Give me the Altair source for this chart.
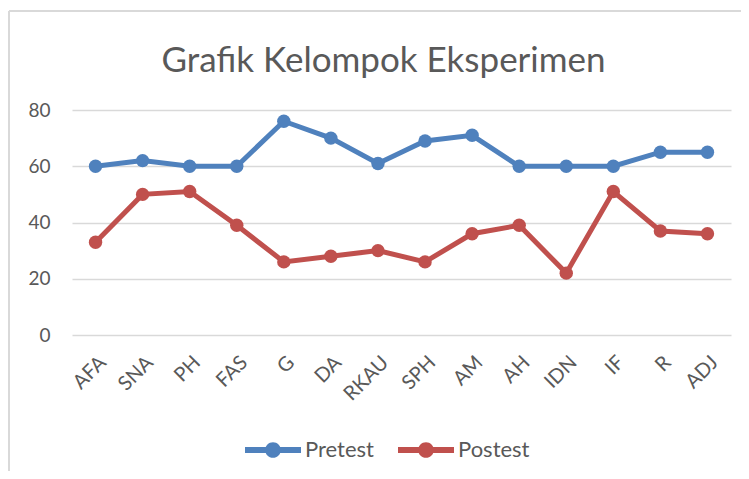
import altair as alt
import pandas as pd

students = ["AFA", "SNA", "PH", "FAS", "G", "DA", "RKAU", "SPH", "AM", "AH", "IDN", "IF", "R", "ADJ"]
pretest = [60, 62, 60, 60, 76, 70, 61, 69, 71, 60, 60, 60, 65, 65]
postest = [33, 50, 51, 39, 26, 28, 30, 26, 36, 39, 22, 51, 37, 36]
series_names = ["Pretest", "Postest"]
series_colors = ["#4F81BD", "#C0504D"]
chart_title = "Grafik Kelompok Eksperimen"

rows = []
for s, v in zip(students, pretest):
    rows.append({"Siswa": s, "Seri": "Pretest", "Nilai": v})
for s, v in zip(students, postest):
    rows.append({"Siswa": s, "Seri": "Postest", "Nilai": v})
df = pd.DataFrame(rows)

FONT = "Lato"
GREY = "#595959"

legend_path = (
    "M-1,-0.11 L-0.2,-0.11 L-0.2,0.11 L-1,0.11 Z "
    "M0.2,-0.11 L1,-0.11 L1,0.11 L0.2,0.11 Z "
    "M0.28,0 A0.28,0.28 0 1,1 -0.28,0 A0.28,0.28 0 1,1 0.28,0 Z"
)

x_enc = alt.X(
    "Siswa:N",
    sort=students,
    scale=alt.Scale(paddingInner=0, paddingOuter=0),
    axis=alt.Axis(
        title=None, labelAngle=-45, labelFont=FONT, labelFontSize=20,
        labelColor=GREY, ticks=False, domain=False, grid=False, labelPadding=17,
    ),
)
y_enc = alt.Y(
    "Nilai:Q",
    scale=alt.Scale(domain=[0, 80]),
    axis=alt.Axis(
        title=None, values=[0, 20, 40, 60, 80], labelFont=FONT, labelFontSize=19,
        labelColor=GREY, ticks=False, domain=False, gridColor="#D9D9D9",
        gridWidth=1.3, labelPadding=22,
    ),
)
color_enc = alt.Color(
    "Seri:N",
    sort=series_names,
    scale=alt.Scale(domain=series_names, range=series_colors),
    legend=alt.Legend(
        title=None, orient="none", direction="horizontal", legendX=173, legendY=312,
        symbolType=legend_path, symbolSize=3136, symbolStrokeWidth=0,
        labelFont=FONT, labelFontSize=22, labelColor=GREY, labelOffset=4,
        columnPadding=24, symbolOpacity=1,
    ),
)

base = alt.Chart(df)
lines = base.mark_line(strokeWidth=5).encode(x=x_enc, y=y_enc, color=color_enc, detail="Seri:N")
points = base.mark_point(filled=True, size=180, opacity=1).encode(x=x_enc, y=y_enc, color=color_enc)

border_left = alt.Chart(df).mark_rule(color="#D9D9D9", strokeWidth=1.5, clip=False).encode(
    x=alt.value(-63), y=alt.value(-99), y2=alt.value(400)
)
border_top = alt.Chart(df).mark_rule(color="#D9D9D9", strokeWidth=1.5, clip=False).encode(
    x=alt.value(-63), x2=alt.value(700), y=alt.value(-99)
)
title_text = alt.Chart(pd.DataFrame({"t": [chart_title]})).mark_text(
    font=FONT, fontSize=35, color=GREY, align="center", baseline="alphabetic"
).encode(text="t:N", x=alt.value(311.5), y=alt.value(-38))

chart = alt.layer(border_left, border_top, lines, points, title_text).properties(
    width=659,
    height=225,
    autosize=alt.AutoSizeParams(type="none"),
    padding={"left": 64, "top": 102, "right": 10, "bottom": 136},
).configure_view(stroke=None)

chart.save("out.html", embed_options={"renderer": "svg", "actions": False})
